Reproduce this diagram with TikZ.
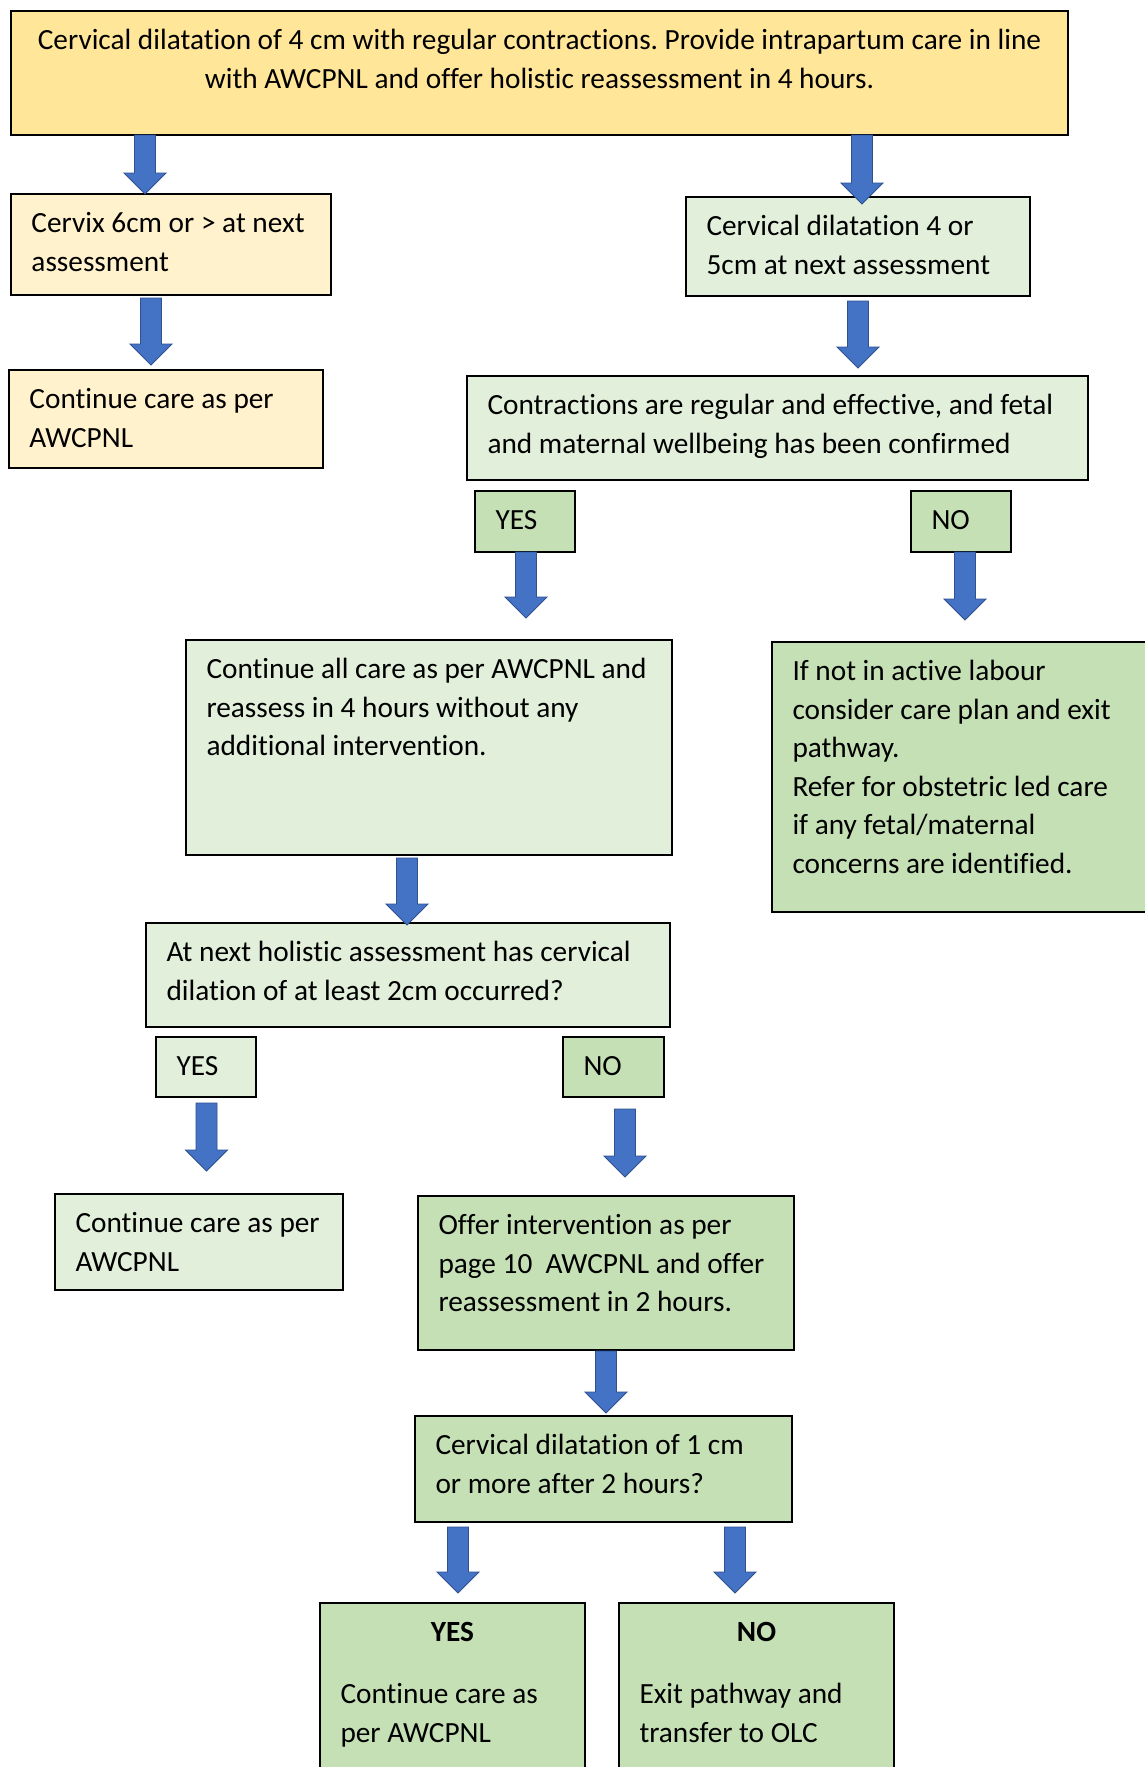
\documentclass[tikz,border=0pt]{standalone}
\usepackage{fontspec}
\setmainfont{Carlito}[Ligatures={NoCommon}]
\usetikzlibrary{calc}
\definecolor{gold}{HTML}{FFE699}
\definecolor{ylight}{HTML}{FFF2CC}
\definecolor{glight}{HTML}{E2EFDA}
\definecolor{gmid}{HTML}{C5E0B4}
\definecolor{ablue}{HTML}{4472C4}
\definecolor{aline}{HTML}{2F528F}
\newcommand\boxtxt[3]{\parbox[c][#2pt][t]{#1pt}{\fontsize{29.3}{38.6}\selectfont\frenchspacing\parindent=0pt\leftskip=20.5pt\rightskip=-80pt plus 1fil\parfillskip=0pt plus 1fil\rule{0pt}{38.5pt}#3}}
\newcommand\ctrtxt[3]{\parbox[c][#2pt][t]{#1pt}{\fontsize{29.3}{38.6}\selectfont\frenchspacing\parindent=0pt\leftskip=-40pt plus 1fil\rightskip=-40pt plus 1fil\parfillskip=0pt\rule{0pt}{38.5pt}#3}}
\newcommand\ctrline[1]{{\leftskip=-40pt plus 1fil\rightskip=-40pt plus 1fil\parfillskip=0pt #1\par}}
\tikzset{
  box/.style={draw=black, line width=1.8pt, anchor=north west, inner sep=0pt, outer sep=0pt},
  barrow/.style={draw=aline, fill=ablue, line width=0.9pt, line join=miter,
    to path={let \p1=(\tikztostart), \p2=(\tikztotarget) in
      (\x1-10.5pt,\y1) -- (\x1+10.5pt,\y1) -- (\x1+10.5pt,\y2+21pt) -- (\x1+21pt,\y2+21pt)
      -- (\x1,\y2) -- (\x1-21pt,\y2+21pt) -- (\x1-10.5pt,\y2+21pt) -- cycle}}
}
\begin{document}
\begin{tikzpicture}[x=1pt,y=-1pt]
\useasboundingbox (0,0) rectangle (1145,1767);
\clip (0,0) rectangle (1145,1767);
\fill[white] (0,0) rectangle (1145,1767);

\node[box, fill=gold] (top) at (11,11) {\ctrtxt{1057}{124}{Cervical dilatation of 4 cm with regular contractions. Provide intrapartum care in line\par with AWCPNL and offer holistic reassessment in 4 hours.}};

\node[box, fill=ylight] (cervix) at (11,194) {\boxtxt{320}{101}{Cervix 6cm or > at next\\assessment}};
\node[box, fill=ylight] (cont1) at (9,370) {\boxtxt{314}{98}{Continue care as per\\AWCPNL}};

\node[box, fill=glight] (dil45) at (686,197) {\boxtxt{344}{99}{Cervical dilatation 4 or\\5cm at next assessment}};
\node[box, fill=glight] (contr) at (467,376) {\boxtxt{621}{104}{Contractions are regular and effective, and fetal\\and maternal wellbeing has been confirmed}};

\node[box, fill=gmid] (yes1) at (475,491) {\boxtxt{100}{61}{YES}};
\node[box, fill=gmid] (no1) at (911,491) {\boxtxt{100}{61}{NO}};

\node[box, fill=glight] (contall) at (186,640) {\boxtxt{486}{215}{Continue all care as per AWCPNL and\\reassess in 4 hours without any\\additional intervention.}};
\node[box, fill=gmid] (notact) at (772,642) {\boxtxt{400}{270}{If not in active labour\\consider care plan and exit\\pathway.\\Refer for obstetric led care\\if any fetal/maternal\\concerns are identified.}};

\node[box, fill=glight] (atnext) at (146,923) {\boxtxt{524}{104}{At next holistic assessment has cervical\\dilation of at least 2cm occurred?}};

\node[box, fill=glight] (yes2) at (156,1037) {\boxtxt{100}{60}{YES}};
\node[box, fill=gmid] (no2) at (563,1037) {\boxtxt{101}{60}{NO}};

\node[box, fill=glight] (cont2) at (55,1194) {\boxtxt{288}{96}{Continue care as per\\AWCPNL}};
\node[box, fill=gmid] (offer) at (418,1196) {\boxtxt{376}{154}{Offer intervention as per\\page 10~ AWCPNL and offer\\reassessment in 2 hours.}};

\node[box, fill=gmid] (cerv1) at (415,1416) {\boxtxt{377}{106}{Cervical dilatation of 1 cm\\or more after 2 hours?}};

\node[box, fill=gmid] (yes3) at (320,1603) {\boxtxt{265}{200}{\ctrline{\bfseries YES}\vspace{23.4pt}Continue care as\\per AWCPNL}};
\node[box, fill=gmid] (no3) at (619,1603) {\boxtxt{275}{200}{\ctrline{\bfseries NO}\vspace{23.4pt}Exit pathway and\\transfer to OLC}};

\draw[barrow] ([xshift=134pt]top.south west) to (cervix.north);
\draw[barrow] ([xshift=851pt]top.south west) to ([yshift=-7pt]dil45.north);
\draw[barrow] ([xshift=140pt,yshift=-3pt]cervix.south west) to ([yshift=5pt]cont1.north);
\draw[barrow] ([xshift=172pt,yshift=-5pt]dil45.south west) to ([yshift=8pt]contr.north);
\draw[barrow] ([xshift=51pt]yes1.south west) to ([yshift=22pt]contall.north);
\draw[barrow] ([xshift=54pt]no1.south west) to ([yshift=22pt]notact.north);
\draw[barrow] ([xshift=221pt,yshift=-3pt]contall.south west) to ([yshift=-2pt]atnext.north);
\draw[barrow] ([xshift=50.5pt,yshift=-6pt]yes2.south west) to ([yshift=23pt]cont2.north);
\draw[barrow] ([xshift=62pt,yshift=-12pt]no2.south west) to ([yshift=19pt]offer.north);
\draw[barrow] ([xshift=188pt,yshift=-1pt]offer.south west) to ([yshift=3pt]cerv1.north);
\draw[barrow] ([xshift=43pt,yshift=-5pt]cerv1.south west) to ([yshift=10pt]yes3.north);
\draw[barrow] ([xshift=320pt,yshift=-5pt]cerv1.south west) to ([yshift=10pt]no3.north);
\end{tikzpicture}
\end{document}
